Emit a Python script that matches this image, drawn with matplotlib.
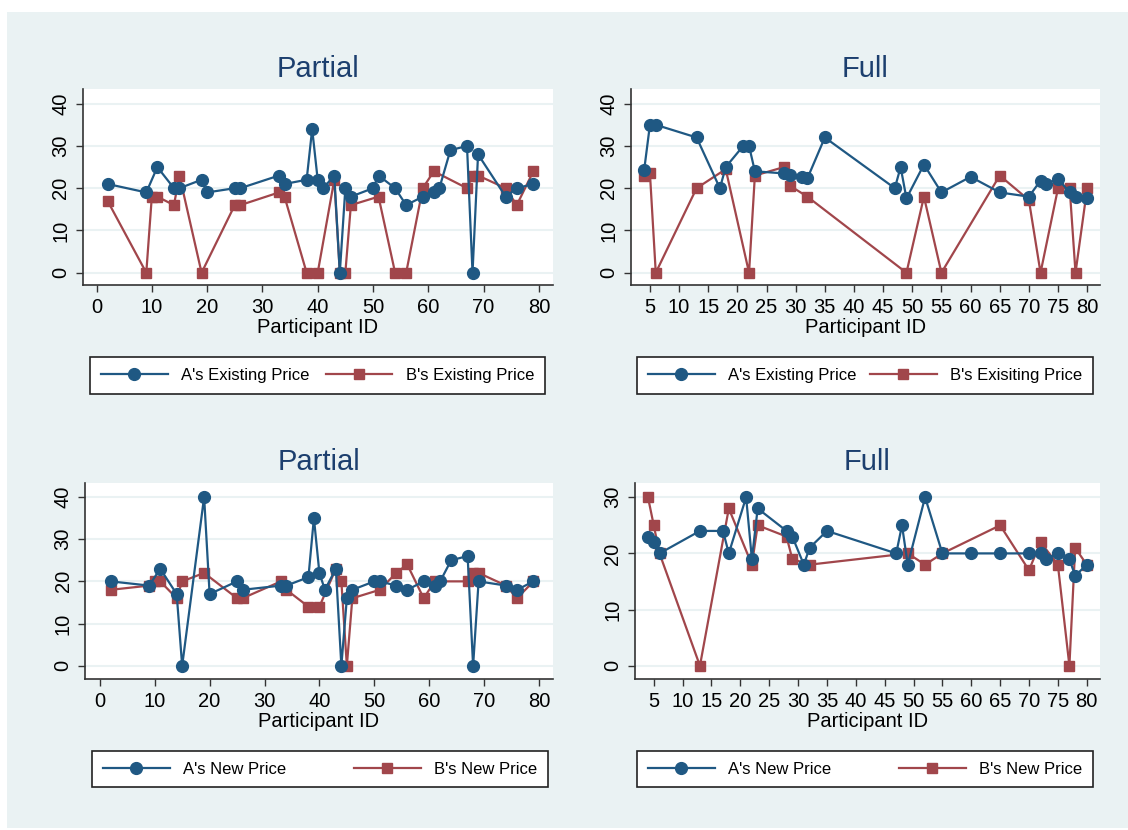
import matplotlib.pyplot as plt
from matplotlib.patches import Rectangle

plt.rcParams['font.family'] = ['Liberation Sans', 'DejaVu Sans']

# partial information treatment
part_a_id = [2, 9, 11, 14, 15, 19, 20, 25, 26, 33, 34, 38, 39, 40, 41, 43, 44,
             45, 46, 50, 51, 54, 56, 59, 61, 62, 64, 67, 68, 69, 74, 76, 79]
part_a_exist = [21, 19, 25, 20, 20, 22, 19, 20, 20, 23, 21, 22, 34, 22, 20, 23, 0,
                20, 18, 20, 23, 20, 16, 18, 19, 20, 29, 30, 0, 28, 18, 20, 21]
part_a_new = [20, 19, 23, 17, 0, 40, 17, 20, 18, 19, 19, 21, 35, 22, 18, 23, 0,
              16, 18, 20, 20, 19, 18, 20, 19, 20, 25, 26, 0, 20, 19, 18, 20]

part_b_id = [2, 9, 10, 11, 14, 15, 19, 25, 26, 33, 34, 38, 40, 43, 44, 45, 46,
             51, 54, 56, 59, 61, 67, 68, 69, 74, 76, 79]
part_b_exist = [17, 0, 18, 18, 16, 23, 0, 16, 16, 19, 18, 0, 0, 22, 0, 0, 16,
                18, 0, 0, 20, 24, 20, 23, 23, 20, 16, 24]
part_b_new = [18, 19, 20, 20, 16, 20, 22, 16, 16, 20, 18, 14, 14, 23, 20, 0, 16,
              18, 22, 24, 16, 20, 20, 22, 22, 19, 16, 20]

# full information treatment
full_a_id = [4, 5, 6, 13, 17, 18, 21, 22, 23, 28, 29, 31, 32, 35, 47, 48, 49,
             52, 55, 60, 65, 70, 72, 73, 75, 77, 78, 80]
full_a_exist = [24.2, 35, 35, 32, 20, 25, 30, 30, 24, 23.5, 23.1, 22.7, 22.3, 32,
                20, 25, 17.6, 25.6, 19, 22.7, 19, 18, 21.8, 21.1, 22.2, 19, 18, 17.6]
full_a_new = [23, 22, 20, 24, 24, 20, 30, 19, 28, 24, 23, 18, 21, 24, 20, 25, 18,
              30, 20, 20, 20, 20, 20, 19, 20, 19, 16, 18]

full_b_id = [4, 5, 6, 13, 18, 22, 23, 28, 29, 32, 49, 52, 55, 65, 70, 72, 75,
             77, 78, 80]
full_b_exist = [23, 23.5, 0, 20, 24.5, 0, 23, 25, 20.6, 18, 0, 18, 0, 23, 17.2,
                0, 20, 20, 0, 20]
full_b_new = [30, 25, 20, 0, 28, 18, 25, 23, 19, 18, 20, 18, 20, 25, 17, 22, 18,
              0, 21, 18]

W, H = 1128, 830
BLUE = '#1f5883'
RED = '#a1464b'
BG = '#eaf2f3'
TITLE = '#1c3f6e'

fig = plt.figure(figsize=(W / 100, H / 100), dpi=100)
fig.patch.set_facecolor('white')
fig.patches.append(Rectangle((7 / W, 2 / H), 1 - 7 / W, (H - 14) / H,
                             transform=fig.transFigure, facecolor=BG,
                             edgecolor='none', zorder=-10))


def px_axes(left, top, right, bottom):
    return fig.add_axes([left / W, 1 - bottom / H, (right - left) / W, (bottom - top) / H])


def panel(ax, title, a_id, a_val, b_id, b_val, xlim, ylim, xticks, yticks,
          labels, legbox):
    ax.set_facecolor('white')
    for y in yticks:
        ax.axhline(y, color=BG, lw=1.5, zorder=0)
    la, = ax.plot(a_id, a_val, color=BLUE, lw=1.6, marker='o', markersize=8.5,
                  zorder=3)
    lb, = ax.plot(b_id, b_val, color=RED, lw=1.6, marker='s', markersize=7.5,
                  zorder=2)
    ax.set_xlim(*xlim)
    ax.set_ylim(*ylim)
    ax.set_xticks(xticks)
    ax.set_yticks(yticks)
    ax.set_yticklabels([str(t) for t in yticks], rotation=90, va='center')
    ax.tick_params(labelsize=14.5, length=5, width=1, color='#333333', pad=4)
    for s in ['top', 'right']:
        ax.spines[s].set_visible(False)
    for s in ['left', 'bottom']:
        ax.spines[s].set_color('#333333')
        ax.spines[s].set_linewidth(1.2)
    ax.set_title(title, fontsize=21, color=TITLE, pad=9)
    ax.set_xlabel('Participant ID', fontsize=14.5, labelpad=1)
    x0, y0, x1, y1 = legbox
    leg = fig.legend([la, lb], labels, ncol=2, mode='expand', loc='center',
                     bbox_to_anchor=(x0 / W, 1 - y1 / H, (x1 - x0) / W, (y1 - y0) / H),
                     fontsize=12, handlelength=4.0, handletextpad=0.8,
                     borderpad=0.65, borderaxespad=0, fancybox=False,
                     edgecolor='#222222', framealpha=1)
    leg.get_frame().set_linewidth(1.2)


ax1 = px_axes(82.7, 89.3, 552.7, 285)
panel(ax1, 'Partial', part_a_id, part_a_exist, part_b_id, part_b_exist,
      (-2.5, 82.5), (-2.9, 43.4), range(0, 81, 10), [0, 10, 20, 30, 40],
      ["A's Existing Price", "B's Existing Price"], (90, 355.7, 545, 395))

ax2 = px_axes(630.7, 89.3, 1100, 285)
panel(ax2, 'Full', full_a_id, full_a_exist, full_b_id, full_b_exist,
      (1.7, 82.2), (-2.9, 43.4), range(5, 81, 5), [0, 10, 20, 30, 40],
      ["A's Existing Price", "B's Exisiting Price"], (637, 355.7, 1093, 395))

ax3 = px_axes(85, 482.6, 552.7, 679.3)
panel(ax3, 'Partial', part_a_id, part_a_new, part_b_id, part_b_new,
      (-2.7, 82.5), (-3.2, 43.4), range(0, 81, 10), [0, 10, 20, 30, 40],
      ["A's New Price", "B's New Price"], (92, 749, 548, 789))

ax4 = px_axes(634.7, 482.6, 1100, 679.3)
panel(ax4, 'Full', full_a_id, full_a_new, full_b_id, full_b_new,
      (1.7, 82.3), (-2.4, 32.6), range(5, 81, 5), [0, 10, 20, 30],
      ["A's New Price", "B's New Price"], (637, 749, 1093, 789))

fig.savefig('out.png', dpi=100)
